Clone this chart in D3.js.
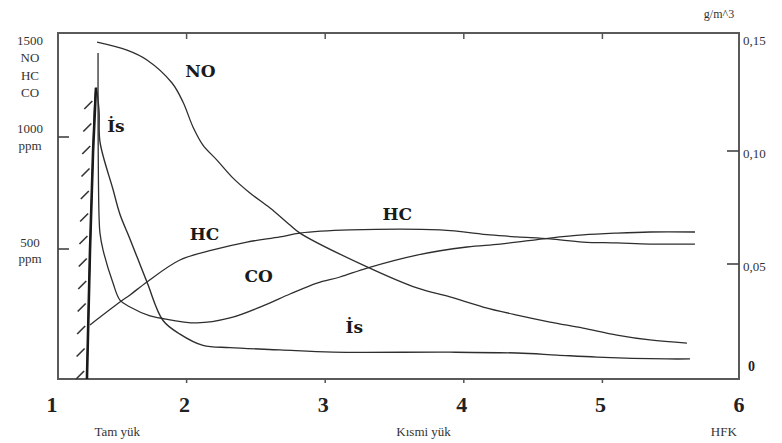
<!DOCTYPE html>
<html>
<head>
<meta charset="utf-8">
<script src="https://cdn.jsdelivr.net/npm/d3@7"></script>
<style>
  html, body { margin: 0; padding: 0; background: #fff; }
  svg { display: block; }
</style>
</head>
<body>
<svg id="chart" width="782" height="443"></svg>
<script>
// Exhaust emissions of a diesel engine against excess-air ratio (λ)
const xTickValues = [1, 2, 3, 4, 5, 6];
const xInnerTicks = [2, 3, 4, 5];
const ppmTicks = [500, 1000];
const gTicks = [0.05, 0.10];
const loadLabels = ["Tam yük", "Kısmi yük", "HFK"];
const loadLabelX = [1.5, 3.71, 5.97];

// NO, ppm
const noLambda = [1.354, 1.57, 1.714, 1.895, 1.974, 2.046, 2.118, 2.219, 2.328, 2.457, 2.602, 2.746, 2.818, 3.302, 3.662, 3.9, 4.139, 4.384, 4.622, 4.86, 5.105, 5.343, 5.61];
const noPpm    = [1424, 1388, 1344, 1241, 1156, 1045, 964, 897, 821, 750, 683, 607, 571, 420, 326, 286, 241, 205, 174, 147, 116, 94, 80];

// HC, ppm
const hcLambda = [1.303, 1.519, 1.592, 1.714, 1.952, 2.19, 2.436, 2.674, 2.818, 3.179, 3.828, 4.189, 4.384, 4.622, 4.86, 5.105, 5.343, 5.668];
const hcPpm    = [161, 263, 295, 353, 451, 496, 531, 554, 571, 585, 585, 563, 554, 545, 531, 527, 522, 522];

// CO, ppm
const coLambda = [1.361, 1.362, 1.368, 1.375, 1.397, 1.469, 1.519, 1.592, 1.736, 1.808, 2.075, 2.313, 2.551, 2.746, 2.941, 3.107, 3.302, 3.662, 4.023, 4.261, 4.622, 4.86, 5.105, 5.343, 5.668];
const coPpm    = [1375, 964, 652, 571, 496, 348, 272, 241, 201, 192, 170, 192, 246, 299, 348, 375, 415, 473, 509, 522, 549, 563, 571, 576, 576];

// Smoke (İs), g/m^3
const isLambda = [1.281, 1.303, 1.325, 1.346, 1.368, 1.375, 1.469, 1.519, 1.592, 1.714, 1.83, 1.952, 2.118, 2.313, 2.674, 3.056, 3.9, 4.384, 4.672, 4.961, 5.466, 5.632];
const isGm3    = [0, 0.056, 0.0996, 0.128, 0.118, 0.104, 0.083, 0.072, 0.061, 0.042, 0.025, 0.019, 0.014, 0.013, 0.012, 0.011, 0.011, 0.0106, 0.0097, 0.0088, 0.008, 0.008];

// Curve labels: [text, λ, ppm]
const curveLabels = [
  ["NO", 2.1, 1268],
  ["İs", 1.49, 1022],
  ["HC", 2.13, 540],
  ["CO", 2.52, 353],
  ["HC", 3.52, 630],
  ["İs", 3.21, 125]
];

const svg = d3.select("#chart");
const frame = { left: 58, right: 739, top: 33, bottom: 379 };

const x = d3.scaleLinear().domain([1, 6]).range([48, 741]);
const yPpm = d3.scaleLinear().domain([0, 1500]).range([361, 25]);
const yG = d3.scaleLinear().domain([0, 0.15]).range([377, 38]);

const ink = "#2e2e2e";
const serif = "'Liberation Serif', 'Times New Roman', serif";

// plot frame
svg.append("rect")
  .attr("x", frame.left).attr("y", frame.top)
  .attr("width", frame.right - frame.left).attr("height", frame.bottom - frame.top)
  .attr("fill", "none").attr("stroke", "#5a5a5a").attr("stroke-width", 2);

// x ticks: outward at the bottom, inward at the top
svg.append("g").selectAll("line").data(xInnerTicks).join("line")
  .attr("x1", d => x(d)).attr("x2", d => x(d))
  .attr("y1", frame.bottom).attr("y2", frame.bottom + 4)
  .attr("stroke", "#555").attr("stroke-width", 1.5);
svg.append("g").selectAll("line").data(xInnerTicks).join("line")
  .attr("x1", d => x(d)).attr("x2", d => x(d))
  .attr("y1", frame.top).attr("y2", frame.top + 6)
  .attr("stroke", "#555").attr("stroke-width", 1.5);

// x tick labels
svg.append("g").selectAll("text").data(xTickValues).join("text")
  .attr("x", d => x(d) + (d === 1 ? 4 : -2)).attr("y", 412)
  .attr("text-anchor", "middle")
  .attr("font-family", serif).attr("font-weight", "bold").attr("font-size", 22)
  .attr("fill", "#222")
  .text(d => d);

// load regime labels
svg.append("g").selectAll("text").data(loadLabels).join("text")
  .attr("x", (d, i) => x(loadLabelX[i])).attr("y", 436)
  .attr("text-anchor", (d, i) => i === 2 ? "end" : "middle")
  .attr("font-family", serif).attr("font-size", 13).attr("fill", "#333")
  .text(d => d);

// left (ppm) axis ticks and labels
svg.append("g").selectAll("line").data(ppmTicks).join("line")
  .attr("x1", frame.left).attr("x2", frame.left + 11)
  .attr("y1", d => yPpm(d)).attr("y2", d => yPpm(d))
  .attr("stroke", "#444").attr("stroke-width", 1.6);

const leftLabels = [
  ["1500", 45], ["NO", 62], ["HC", 80], ["CO", 97],
  ["1000", 133], ["ppm", 150],
  ["500", 247], ["ppm", 263]
];
svg.append("g").selectAll("text").data(leftLabels).join("text")
  .attr("x", 30).attr("y", d => d[1])
  .attr("text-anchor", "middle")
  .attr("font-family", serif).attr("font-size", 13).attr("fill", "#333")
  .text(d => d[0]);

// right (g/m^3) axis
svg.append("g").selectAll("line").data(gTicks).join("line")
  .attr("x1", frame.right - 12).attr("x2", frame.right)
  .attr("y1", d => yG(d)).attr("y2", d => yG(d))
  .attr("stroke", "#444").attr("stroke-width", 1.6);

const fmt = d => d3.format(".2f")(d).replace(".", ",");
svg.append("g").selectAll("text").data([0.15, 0.10, 0.05]).join("text")
  .attr("x", frame.right + 4).attr("y", d => yG(d) + 7)
  .attr("font-family", serif).attr("font-size", 13).attr("fill", "#333")
  .text(fmt);
svg.append("text")
  .attr("x", frame.right + 9).attr("y", yG(0) - 6)
  .attr("font-family", serif).attr("font-weight", "bold").attr("font-size", 14).attr("fill", "#222")
  .text("0");
svg.append("text")
  .attr("x", frame.right - 20).attr("y", 18)
  .attr("text-anchor", "middle")
  .attr("font-family", serif).attr("font-size", 12).attr("fill", "#333")
  .text("g/m^3");

// curves
const curve = d3.curveCatmullRom.alpha(0.5);
function drawSeries(xs, ys, yScale, width) {
  const pts = xs.map((v, i) => [x(v), yScale(ys[i])]);
  svg.append("path")
    .attr("d", d3.line().curve(curve)(pts))
    .attr("fill", "none").attr("stroke", ink).attr("stroke-width", width)
    .attr("stroke-linejoin", "round");
  return pts;
}
drawSeries(noLambda, noPpm, yPpm, 1.3);
drawSeries(hcLambda, hcPpm, yPpm, 1.3);
drawSeries(coLambda, coPpm, yPpm, 1.3);
const isPts = drawSeries(isLambda, isGm3, yG, 1.4);

// full-load smoke limit: thick rising branch of the smoke curve, hatched on its left
const peak = d3.maxIndex(isGm3);
const limitPts = isPts.slice(0, peak + 1);
limitPts[0] = [limitPts[0][0], frame.bottom];
svg.append("path")
  .attr("d", d3.line()(limitPts))
  .attr("fill", "none").attr("stroke", "#1a1a1a").attr("stroke-width", 2.6);

const xAtY = py => {
  for (let i = 0; i < limitPts.length - 1; i++) {
    const [x0, y0] = limitPts[i], [x1, y1] = limitPts[i + 1];
    if (py <= y0 && py >= y1) return x0 + (x1 - x0) * (py - y0) / (y1 - y0);
  }
  return limitPts[0][0];
};
const hatchY = d3.range(102, frame.bottom, 22.5);
svg.append("g").selectAll("line").data(hatchY).join("line")
  .attr("x1", d => xAtY(d) - 11).attr("y1", d => d + 7)
  .attr("x2", d => xAtY(d) - 3).attr("y2", d => d - 1)
  .attr("stroke", "#333").attr("stroke-width", 1.6);

// curve labels
svg.append("g").selectAll("text").data(curveLabels).join("text")
  .attr("x", d => x(d[1])).attr("y", d => yPpm(d[2]))
  .attr("text-anchor", "middle")
  .attr("font-family", "'DejaVu Serif', serif").attr("font-weight", "bold").attr("font-size", 17)
  .attr("fill", "#1a1a1a")
  .text(d => d[0]);
</script>
</body>
</html>
